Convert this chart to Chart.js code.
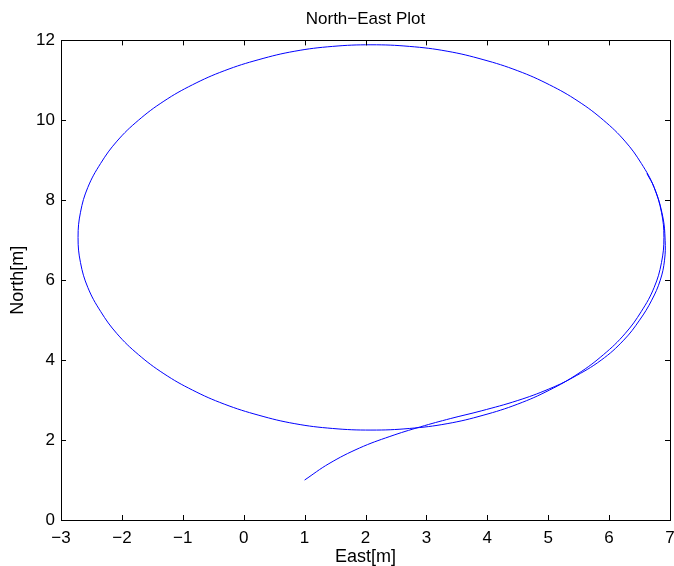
<!DOCTYPE html>
<html>
<head>
<meta charset="utf-8">
<title>North-East Plot</title>
<script src="https://cdn.jsdelivr.net/npm/chart.js@4"></script>
<style>
  html, body { margin: 0; padding: 0; background: #fff; }
</style>
</head>
<body>
<canvas id="neChart" width="674" height="566"></canvas>
<script>
// vehicle track, east / north position in metres, in time order
const eastPos = [
  1.00, 1.40, 1.90, 2.40, 2.90, 3.40, 3.90, 4.50, 5.00, 5.40,
  5.87, 6.24, 6.50, 6.70, 6.84, 6.91, 6.92, 6.88, 6.74, 6.53,
  6.26, 5.91, 5.49, 5.02, 4.50, 3.93, 3.34, 2.72, 2.09, 1.46,
  0.84, 0.25, -0.32, -0.84, -1.31, -1.73, -2.08, -2.35, -2.56, -2.68,
  -2.72, -2.68, -2.56, -2.35, -2.08, -1.73, -1.31, -0.84, -0.32, 0.25,
  0.84, 1.46, 2.09, 2.72, 3.34, 3.93, 4.50, 5.02, 5.49, 5.91,
  6.26, 6.53, 6.74, 6.86, 6.90, 6.86, 6.74, 6.62
];
const northPos = [
  1.00, 1.41, 1.80, 2.09, 2.33, 2.54, 2.73, 2.99, 3.27, 3.56,
  4.00, 4.50, 5.00, 5.50, 6.00, 6.50, 7.00, 7.60, 8.32, 8.92,
  9.48, 10.00, 10.48, 10.89, 11.24, 11.52, 11.73, 11.85, 11.89, 11.85,
  11.73, 11.52, 11.24, 10.89, 10.48, 10.00, 9.48, 8.92, 8.32, 7.70,
  7.07, 6.44, 5.82, 5.22, 4.66, 4.14, 3.66, 3.25, 2.90, 2.62,
  2.41, 2.29, 2.25, 2.29, 2.41, 2.62, 2.90, 3.25, 3.66, 4.14,
  4.66, 5.22, 5.82, 6.44, 7.07, 7.70, 8.32, 8.67
];

const eastRange = [-3, 7];
const northRange = [0, 12];

const FONT = "'Liberation Sans', Arial, Helvetica, sans-serif";
Chart.defaults.font.family = FONT;
Chart.defaults.color = '#000';

const minus = v => String(v).replace('-', '\u2212');

// box around the axes with short inward tick marks on every side
const boxTicks = {
  id: 'boxTicks',
  afterDraw(chart) {
    const { ctx, chartArea: a, scales: { x, y } } = chart;
    const len = 5;
    ctx.save();
    ctx.strokeStyle = '#000';
    ctx.lineWidth = 1;
    ctx.beginPath();
    x.ticks.forEach(t => {
      const px = Math.round(x.getPixelForValue(t.value)) + 0.5;
      ctx.moveTo(px, a.bottom); ctx.lineTo(px, a.bottom - len);
      ctx.moveTo(px, a.top); ctx.lineTo(px, a.top + len);
    });
    y.ticks.forEach(t => {
      const py = Math.round(y.getPixelForValue(t.value)) + 0.5;
      ctx.moveTo(a.left, py); ctx.lineTo(a.left + len, py);
      ctx.moveTo(a.right, py); ctx.lineTo(a.right - len, py);
    });
    ctx.stroke();
    ctx.strokeRect(Math.round(a.left) + 0.5, Math.round(a.top) + 0.5,
      Math.round(a.right - a.left), Math.round(a.bottom - a.top));
    ctx.restore();
  }
};

new Chart(document.getElementById('neChart'), {
  type: 'scatter',
  data: {
    datasets: [{
      data: eastPos.map((e, i) => ({ x: e, y: northPos[i] })),
      showLine: true,
      borderColor: 'rgb(0, 0, 255)',
      borderWidth: 1,
      pointRadius: 0,
      tension: 0.4,
      fill: false
    }]
  },
  options: {
    responsive: false,
    animation: false,
    devicePixelRatio: 1,
    layout: { padding: { left: 0, right: 4, top: 0, bottom: 0 } },
    plugins: {
      legend: { display: false },
      tooltip: { enabled: false },
      title: {
        display: true,
        text: 'North\u2212East Plot',
        fullSize: false,
        color: '#000',
        font: { size: 17, weight: 'normal' },
        padding: { top: 9, bottom: 11 }
      }
    },
    scales: {
      x: {
        type: 'linear',
        min: eastRange[0],
        max: eastRange[1],
        grid: { display: false, drawTicks: false },
        border: { display: false },
        ticks: { stepSize: 1, padding: 8, font: { size: 17 }, color: '#000', callback: minus },
        title: { display: true, text: 'East[m]', color: '#000', font: { size: 18, lineHeight: 1 }, padding: { top: 0, bottom: 0 } },
        afterFit: s => { s.height = 46; s.paddingLeft = 0; s.paddingRight = 0; }
      },
      y: {
        type: 'linear',
        min: northRange[0],
        max: northRange[1],
        grid: { display: false, drawTicks: false },
        border: { display: false },
        ticks: { stepSize: 2, padding: 6, font: { size: 17 }, color: '#000', callback: minus },
        title: { display: true, text: 'North[m]', color: '#000', font: { size: 18 }, padding: { top: 7, bottom: 0 } },
        afterFit: s => { s.width = 61; }
      }
    }
  },
  plugins: [boxTicks]
});
</script>
</body>
</html>
